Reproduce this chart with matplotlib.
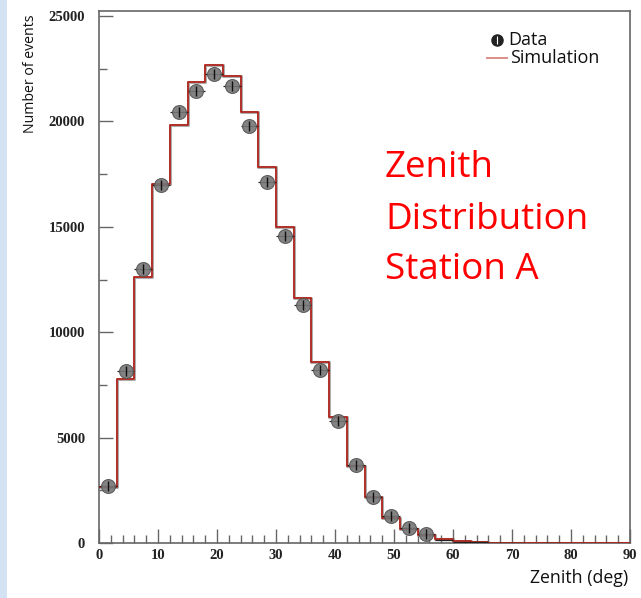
import numpy as np
import matplotlib
matplotlib.use("Agg")
import matplotlib.pyplot as plt
from matplotlib.patches import Rectangle

# Zenith histogram, 3-degree bins from 0 to 90 deg
bin_edges = np.arange(0, 93, 3)
sim_counts = [2650, 7800, 12600, 17050, 19850, 21850, 22700, 22150, 20450, 17850,
              14980, 11600, 8600, 5990, 3670, 2200, 1170, 660, 380, 200,
              100, 30, 0, 0, 0, 0, 0, 0, 0, 0]
data_counts = [2700, 8160, 13000, 16980, 20440, 21460, 22250, 21680, 19800, 17150,
               14550, 11290, 8200, 5800, 3700, 2200, 1300, 730, 410, 150,
               60, 25, 15, 8, 0, 5, 0, 0, 0, 0]

x_ticks = [0, 10, 20, 30, 40, 50, 60, 70, 80, 90]
y_ticks = [0, 5000, 10000, 15000, 20000, 25000]

fig = plt.figure(figsize=(6.41, 5.98), dpi=100)
fig.patch.set_facecolor("white")

# light blue band at the left edge of the slide
fig.patches.append(Rectangle((0, 0), 7 / 641, 1, transform=fig.transFigure,
                             facecolor="#d3e3f4", edgecolor="none", zorder=0))

ax = fig.add_axes([99 / 641, 55 / 598, 531 / 641, 532 / 598])
ax.set_xlim(0, 90)
ax.set_ylim(0, 25240)

edges = np.asarray(bin_edges, dtype=float)
centers = 0.5 * (edges[:-1] + edges[1:])
sim = np.asarray(sim_counts, dtype=float)
dat = np.asarray(data_counts, dtype=float)

# simulation histogram: gray halo under a dark red step line
step_y = np.append(sim, sim[-1])
ax.step(edges, step_y, where="post", color="#8a8a8a", lw=2.2, zorder=2, alpha=0.7)
ax.step(edges, step_y, where="post", color="#b31b12", lw=1.2, zorder=3)

# data points with horizontal bin-width bars
show = dat > 0
ax.errorbar(centers[show], dat[show], xerr=1.5, yerr=np.sqrt(dat[show]),
            fmt="none", ecolor="#222222", elinewidth=0.9, capsize=0, zorder=4)
big = show & (dat > 300)
ax.plot(centers[big], dat[big], "o", ms=10, mfc="#767676", mec="#555555",
        mew=0.8, alpha=0.9, zorder=5)
ax.plot(centers[big], dat[big], "|", ms=7, color="#111111", mew=1.0, zorder=6)

# axes styling
for s in ax.spines.values():
    s.set_color("#666666")
    s.set_linewidth(1.2)
ax.set_xticks(x_ticks)
ax.set_xticks(np.arange(0, 91, 2), minor=True)
ax.set_yticks(y_ticks)
ax.set_yticks(np.arange(0, 25001, 2500), minor=True)
ax.tick_params(which="both", direction="in", color="#666666", width=1.0,
               top=False, right=False)
ax.tick_params(which="major", length=10, pad=4)
ax.tick_params(which="minor", length=6)
ax.set_xticklabels([str(v) for v in x_ticks], family="Liberation Serif",
                   fontweight="bold", fontsize=10.5, color="#222222")
ax.set_yticklabels([str(v) for v in y_ticks], family="Liberation Serif",
                   fontweight="bold", fontsize=10.5, color="#222222")
ax.tick_params(axis="y", pad=10)

fig.text(628 / 641, 1 - 578 / 598, "Zenith (deg)", ha="right", va="center",
         family="Open Sans", fontsize=12.8, color="#111111")
fig.text(30 / 641, 1 - 14 / 598, "Number of events", ha="center", va="top",
         rotation=90, family="Open Sans", fontsize=10.2, color="#111111")

# legend
lx, ly1, ly2 = 497, 40, 58
ax.plot([(lx - 99) / 531 * 90], [(543 - ly1) / 21.08 * 1000], "o", ms=8,
        mfc="#222222", mec="#222222", zorder=7, clip_on=False)
ax.plot([(lx - 99) / 531 * 90], [(543 - ly1) / 21.08 * 1000], "|", ms=6,
        color="white", mew=0.8, zorder=8, clip_on=False)
ax.plot([(lx - 10 - 99) / 531 * 90, (lx + 10 - 99) / 531 * 90],
        [(543 - ly2) / 21.08 * 1000] * 2, color="#d9857c", lw=1.3, zorder=7)
fig.text(508 / 641, 1 - ly1 / 598, "Data", ha="left", va="center",
         family="Open Sans", fontsize=13, color="#111111")
fig.text(510 / 641, 1 - ly2 / 598, "Simulation", ha="left", va="center",
         family="Open Sans", fontsize=13, color="#111111")

# slide annotation
fig.text(385 / 641, 1 - 168 / 598, "Zenith", ha="left", va="center",
         family="Open Sans", fontsize=26.5, color="#ff0000")
fig.text(385 / 641, 1 - 220 / 598, "Distribution", ha="left", va="center",
         family="Open Sans", fontsize=26.5, color="#ff0000")
fig.text(385 / 641, 1 - 270 / 598, "Station A", ha="left", va="center",
         family="Open Sans", fontsize=26.5, color="#ff0000")

fig.savefig("out.png", dpi=100, facecolor="white")
